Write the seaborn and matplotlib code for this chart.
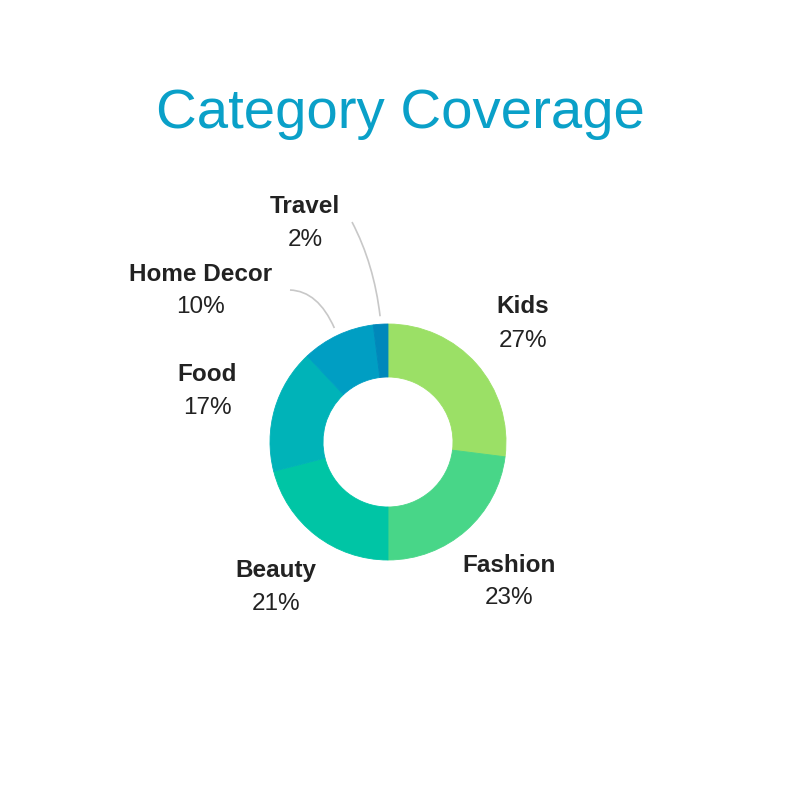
import matplotlib
matplotlib.use("Agg")
import matplotlib.pyplot as plt
from matplotlib.path import Path
from matplotlib.patches import PathPatch
import numpy as np
import seaborn as sns

categories = ["Kids", "Fashion", "Beauty", "Food", "Home Decor", "Travel"]
shares = [27, 23, 21, 17, 10, 2]
colors = ["#9be066", "#48d688", "#00c5a5", "#00b3b8", "#009ec3", "#0088ba"]
title = "Category Coverage"

sns.set_theme(style="white")
plt.rcParams["font.family"] = ["Liberation Sans", "DejaVu Sans"]

W = H = 800
fig = plt.figure(figsize=(8, 8), dpi=100)
ax = fig.add_axes([0, 0, 1, 1])

def Y(y):
    return H - y

cx, cy = 388, 442
R = 118
ring = 53

wedges, _ = ax.pie(shares, colors=colors, startangle=90, counterclock=False,
                   center=(cx, Y(cy)), radius=R,
                   wedgeprops=dict(width=ring, edgecolor="none", linewidth=0))
for w, c in zip(wedges, colors):
    w.set_edgecolor(c)
    w.set_linewidth(0.6)

ax.set_xlim(0, W)
ax.set_ylim(0, H)
ax.set_aspect("equal")
ax.axis("off")

fig.text(0.5, Y(128) / H, title, ha="center", va="baseline",
         fontsize=40.6, color="#0aa0c8")

label_pos = {
    "Kids": (523, 313, 347),
    "Fashion": (509, 572, 604),
    "Beauty": (276, 577, 610),
    "Food": (207, 381, 414),
    "Home Decor": (201, 281, 313),
    "Travel": (305, 213, 246),
}
for cat, val in zip(categories, shares):
    x, yn, yp = label_pos[cat]
    ax.text(x, Y(yn), cat, ha="center", va="baseline", fontsize=17.5,
            fontweight="bold", color="#222222")
    ax.text(x, Y(yp), f"{val}%", ha="center", va="baseline", fontsize=17.5,
            color="#222222")

# leader lines for small slices
cum = np.cumsum([0] + shares)
total = float(sum(shares))
leaders = {"Home Decor": ((290, 290), (318, 291)),
           "Travel": ((352, 222), (374, 264))}
for i, cat in enumerate(categories):
    if cat not in leaders:
        continue
    mid = (cum[i] + cum[i + 1]) / 2 / total
    ang = np.deg2rad(90 - 360 * mid)
    ex = cx + (R + 8) * np.cos(ang)
    ey = Y(cy) + (R + 8) * np.sin(ang)
    (sx, sy), (kx, ky) = leaders[cat]
    path = Path([(sx, Y(sy)), (kx, Y(ky)), (ex, ey)],
                [Path.MOVETO, Path.CURVE3, Path.CURVE3])
    ax.add_patch(PathPatch(path, facecolor="none", edgecolor="#c8c8c8", lw=1.2))

fig.savefig("out.png", dpi=100, facecolor="white")
